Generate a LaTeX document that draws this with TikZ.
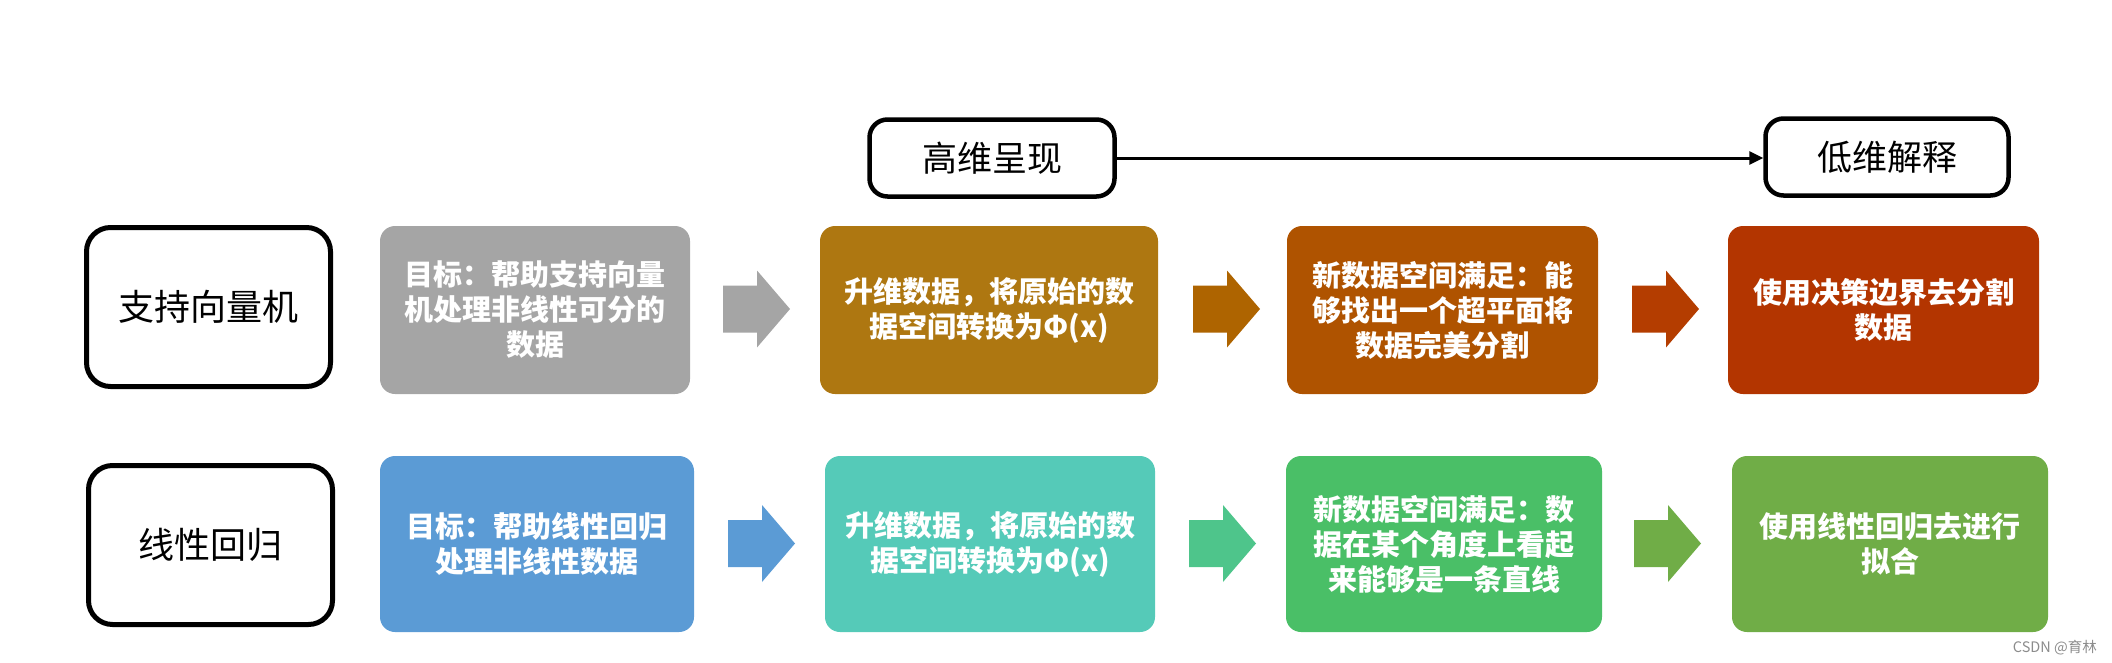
\documentclass[tikz,border=0pt]{standalone}
\usepackage{fontspec}
\setmainfont{Noto Sans CJK SC}
\usetikzlibrary{arrows.meta}
\definecolor{cgray}{HTML}{A5A5A5}
\definecolor{cgold}{HTML}{AE7711}
\definecolor{cgoldarr}{HTML}{AE6400}
\definecolor{corange}{HTML}{AF5300}
\definecolor{credarr}{HTML}{B43D00}
\definecolor{cred}{HTML}{B33500}
\definecolor{cblue}{HTML}{5B9BD5}
\definecolor{cteal}{HTML}{55CAB8}
\definecolor{ctealarr}{HTML}{4EC58B}
\definecolor{cgreen}{HTML}{4ABF67}
\definecolor{colive}{HTML}{70AD47}
\newcommand{\blkarrow}[4]{% name, x0, yc, color
  \fill[#4] (#2,#3-23.5) -- ++(34,0) -- ++(0,-15) -- (#2+67,#3) -- (#2+34,#3+38.5) -- ++(0,-15) -- (#2,#3+23.5) -- cycle;
  \coordinate (#1) at (#2+33.5,#3);
}
\begin{document}
\begin{tikzpicture}[x=1pt,y=-1pt,
  catbox/.style={draw=black,line width=5pt,fill=white,rounded corners=24pt,inner sep=0pt,
    minimum width=244pt,minimum height=159pt,font=\fontsize{36}{40}\selectfont},
  topbox/.style={draw=black,line width=4.5pt,fill=white,rounded corners=18pt,inner sep=0pt,
    minimum height=77pt,font=\fontsize{35}{40}\selectfont},
  stepbox/.style={fill=#1,rounded corners=15pt,inner sep=0pt,text=white,align=center,
    font=\bfseries\fontsize{29}{35}\selectfont},
  row1/.style={minimum height=168pt},
  row2/.style={minimum height=176pt}
]
\useasboundingbox (0,0) rectangle (2112,662);

% top labels
\node[topbox,minimum width=245pt] (hi) at (992,158) {高维呈现};
\node[topbox,minimum width=243pt] (lo) at (1887,157) {低维解释};
\draw[line width=3pt,-{Triangle[length=14pt,width=13pt]}] (hi.east) -- (hi.east -| lo.west);

% left category boxes
\node[catbox] (svm) at (208.5,307) {支持向量机};
\node[catbox] (lr) at (210.5,545) {线性回归};

% row 1
\node[stepbox=cgray,row1,minimum width=310pt] (a1) at (535,310) {目标：帮助支持向量\\机处理非线性可分的\\数据};
\node[stepbox=cgold,row1,minimum width=338pt] (a2) at (989,310) {升维数据，将原始的数\\据空间转换为Φ(x)};
\node[stepbox=corange,row1,minimum width=311pt] (a3) at (1442.5,310) {新数据空间满足：能\\够找出一个超平面将\\数据完美分割};
\node[stepbox=cred,row1,minimum width=311pt] (a4) at (1883.5,310) {使用决策边界去分割\\数据};

\blkarrow{p1}{723}{309}{cgray}
\blkarrow{p2}{1193}{309}{cgoldarr}
\blkarrow{p3}{1632}{309}{credarr}

% row 2
\node[stepbox=cblue,row2,minimum width=314pt] (b1) at (537,544) {目标：帮助线性回归\\处理非线性数据};
\node[stepbox=cteal,row2,minimum width=330pt] (b2) at (990,544) {升维数据，将原始的数\\据空间转换为Φ(x)};
\node[stepbox=cgreen,row2,minimum width=316pt] (b3) at (1444,544) {新数据空间满足：数\\据在某个角度上看起\\来能够是一条直线};
\node[stepbox=colive,row2,minimum width=316pt] (b4) at (1890,544) {使用线性回归去进行\\拟合};

\blkarrow{q1}{728}{543.5}{cblue}
\blkarrow{q2}{1189}{543.5}{ctealarr}
\blkarrow{q3}{1634}{543.5}{colive}

% watermark
\node[anchor=east,inner sep=0pt,text=black!45,font=\fontsize{14.5}{16}\selectfont] (wm) at (2097,648) {CSDN @育林};
\end{tikzpicture}
\end{document}
